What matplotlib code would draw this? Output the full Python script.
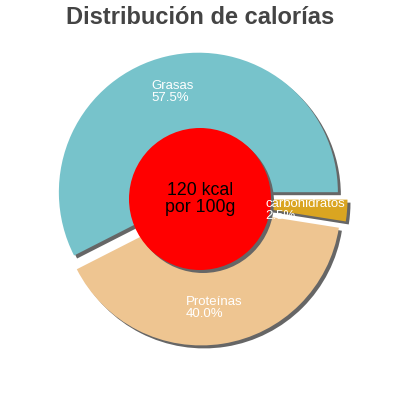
import numpy as np
import matplotlib
matplotlib.use("Agg")
import matplotlib.pyplot as plt
from matplotlib.patches import Wedge, Circle

# data
labels = ["Grasas", "Proteínas", "carbohidratos"]
shares = [57.5, 40.0, 2.5]
colors = ["#77c3cb", "#eec591", "#daa521"]
energy_text = "120 kcal\npor 100g"
title = "Distribución de calorías"

# layout (pixels, y up)
W = H = 400
cx, cy = 200, 201
radius = 139.5
inner_r = 71
explode = [7, 7, 8]
shadow_dx, shadow_dy = 3, -3
shadow_col = "#666666"
# label top-left anchors in image coords
label_pos = [(151, 80), (186, 296), (265, 198)]

plt.rcParams['font.family'] = ['Liberation Sans', 'DejaVu Sans']

fig = plt.figure(figsize=(4, 4), dpi=100)
ax = fig.add_axes([0, 0, 1, 1])
ax.set_xlim(0, W)
ax.set_ylim(0, H)
ax.set_aspect('equal')
ax.axis('off')

total = sum(shares)
start = 0.0
wedges = []
for lab, val, col, ex in zip(labels, shares, colors, explode):
    sweep = 360.0 * val / total
    mid = np.radians(start + sweep / 2)
    wx = cx + ex * np.cos(mid)
    wy = cy + ex * np.sin(mid)
    wedges.append((wx, wy, start, start + sweep, col))
    start += sweep

# shadows first
for wx, wy, t1, t2, col in wedges:
    ax.add_patch(Wedge((wx + shadow_dx, wy + shadow_dy), radius, t1, t2,
                       facecolor=shadow_col, edgecolor='none'))
for wx, wy, t1, t2, col in wedges:
    ax.add_patch(Wedge((wx, wy), radius, t1, t2,
                       facecolor=col, edgecolor='none'))

# slice labels
for lab, val, (lx, ly) in zip(labels, shares, label_pos):
    ax.text(lx, H - ly, f"{lab}\n{val:.1f}%", color='white',
            fontsize=9.5, ha='left', va='top', linespacing=0.95)

# center circle
ax.add_patch(Circle((cx + shadow_dx, cy + shadow_dy), inner_r,
                    facecolor=shadow_col, edgecolor='none'))
ax.add_patch(Circle((cx, cy), inner_r, facecolor='#ff0000', edgecolor='none'))
ax.text(cx, cy, energy_text, ha='center', va='center', fontsize=12.8,
        color='black', linespacing=1.0)

fig.text(0.5, 1 - 18 / H, title, ha='center', va='center',
         fontsize=17, fontweight='bold', color='#444444')

plt.savefig("out.png", dpi=100)
plt.close()
